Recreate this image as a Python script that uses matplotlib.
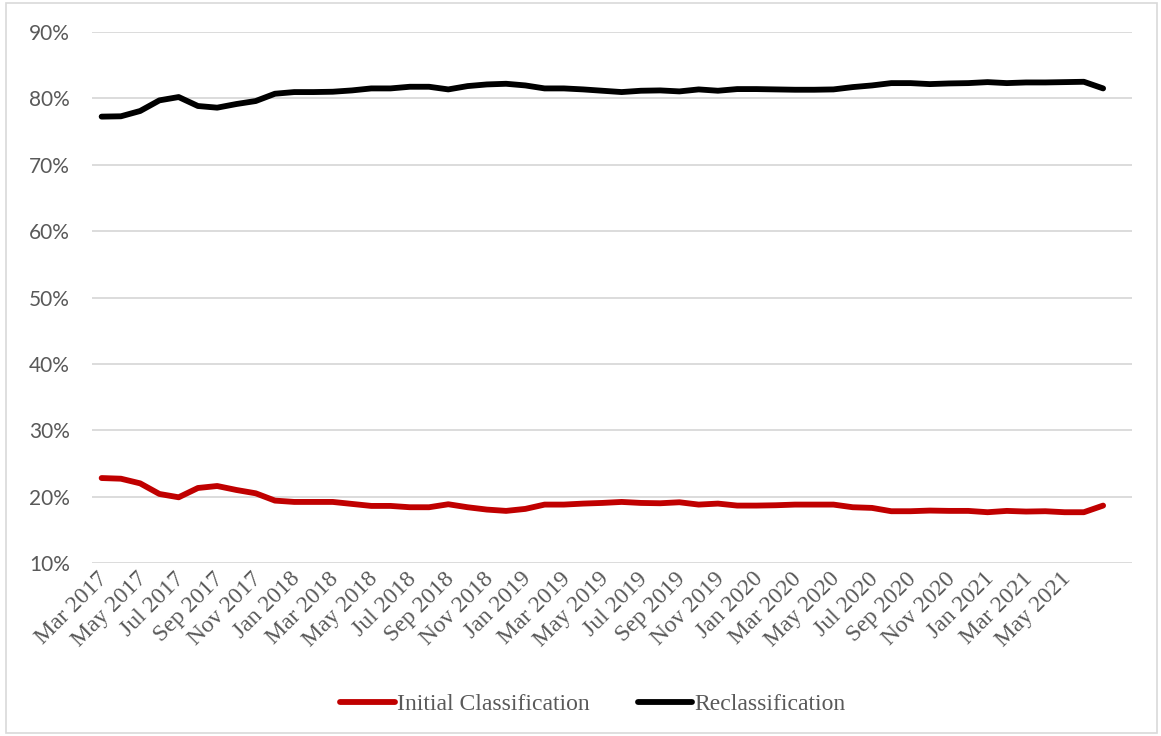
import matplotlib
matplotlib.use("Agg")
import matplotlib.pyplot as plt
from matplotlib.patches import Rectangle

months = ["Jan", "Feb", "Mar", "Apr", "May", "Jun", "Jul", "Aug", "Sep", "Oct", "Nov", "Dec"]
categories = []
for k in range(54):
    m = (2 + k) % 12
    y = 2017 + (2 + k) // 12
    categories.append(f"{months[m]} {y}")

initial = [22.8, 22.7, 22.0, 20.4, 19.9, 21.3, 21.6, 21.0, 20.5, 19.4,
           19.2, 19.2, 19.2, 18.9, 18.6, 18.6, 18.4, 18.4, 18.85, 18.4,
           18.05, 17.85, 18.15, 18.8, 18.8, 18.95, 19.05, 19.2, 19.05, 19.0,
           19.15, 18.8, 18.95, 18.65, 18.65, 18.7, 18.8, 18.8, 18.8, 18.4,
           18.3, 17.8, 17.8, 17.9, 17.85, 17.85, 17.65, 17.85, 17.75, 17.8,
           17.65, 17.65, 18.65]
reclass = [77.25, 77.3, 78.1, 79.7, 80.2, 78.85, 78.6, 79.15, 79.6, 80.7,
           80.95, 80.95, 81.0, 81.2, 81.5, 81.5, 81.75, 81.75, 81.35, 81.85,
           82.1, 82.2, 81.95, 81.5, 81.5, 81.35, 81.15, 80.95, 81.15, 81.2,
           81.05, 81.35, 81.15, 81.4, 81.4, 81.35, 81.3, 81.3, 81.35, 81.7,
           81.95, 82.3, 82.3, 82.15, 82.25, 82.3, 82.45, 82.3, 82.4, 82.4,
           82.45, 82.5, 81.5]
yticks = [10, 20, 30, 40, 50, 60, 70, 80, 90]

W, H = 1161, 736
fig = plt.figure(figsize=(W / 100, H / 100), dpi=100)
ax = fig.add_axes([92 / W, 1 - 563 / H, (1132 - 92) / W, (563 - 32) / H])

xs = list(range(len(initial)))
l1, = ax.plot(xs, initial, color="#C00000", lw=4.2, solid_capstyle="round",
              solid_joinstyle="round", label="Initial Classification")
l2, = ax.plot(xs, reclass, color="#000000", lw=4.2, solid_capstyle="round",
              solid_joinstyle="round", label="Reclassification")

ax.set_xlim(-0.5, len(categories) - 0.5)
ax.set_ylim(10, 90)
ax.set_yticks(yticks)
ax.set_yticklabels([f"{v}%" for v in yticks], family="Lato", fontsize=15, color="#595959")
ax.yaxis.grid(True, color="#D9D9D9", lw=1.3)
ax.set_axisbelow(True)
ax.tick_params(axis="y", length=0, pad=16)
ax.tick_params(axis="x", length=0, pad=2)
tick_idx = list(range(0, 51, 2))
ax.set_xticks(tick_idx)
ax.set_xticklabels([categories[i] for i in tick_idx], rotation=45, ha="right",
                   va="center", rotation_mode="anchor", family="Liberation Serif",
                   fontsize=17, color="#595959")
for lab in ax.get_xticklabels():
    lab.set_transform(lab.get_transform() + matplotlib.transforms.ScaledTranslation(3 / 100, -10 / 100, fig.dpi_scale_trans))
for s in ax.spines.values():
    s.set_visible(False)

leg = fig.legend(handles=[l1, l2], loc="center", bbox_to_anchor=(593 / W, 1 - 704 / H),
                 ncol=2, frameon=False, handlelength=2.3, handletextpad=0.1,
                 columnspacing=2.05, prop={"family": "Liberation Serif", "size": 17})
for t in leg.get_texts():
    t.set_color("#595959")

fig.patches.append(Rectangle((6 / W, 3 / H), (1157 - 6) / W, (733 - 3) / H,
                             transform=fig.transFigure, fill=False,
                             edgecolor="#D9D9D9", lw=1.2))

fig.savefig("out.png", dpi=100)
